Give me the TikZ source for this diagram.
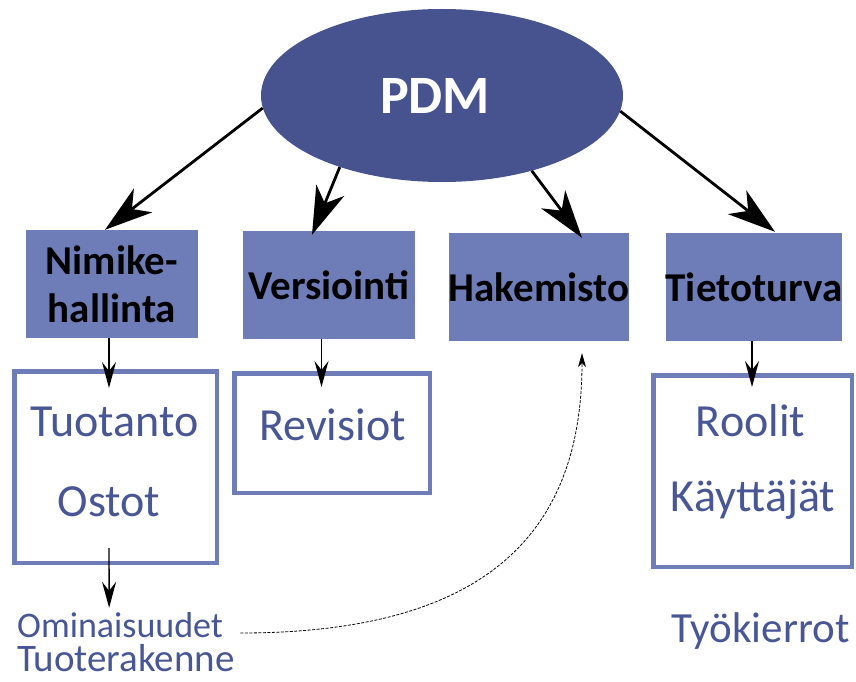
\documentclass[tikz,border=0pt]{standalone}
\usepackage{fontspec}
\setmainfont{Carlito}
\usepackage{xcolor}
\usetikzlibrary{arrows.meta,
positioning,
shapes.geometric,
calc}

\definecolor{pdmdark}{RGB}{70,83,142}
\definecolor{boxfill}{RGB}{110,124,183}
\definecolor{textblue}{RGB}{72,86,150}

\begin{document}
\begin{tikzpicture}[
				x=1pt, y=-1pt,
				hub/.style={
					ellipse,
					fill=pdmdark,
					inner sep=0pt,
					minimum width=362pt,
					minimum height=173pt,
					text=white,
					font=\fontsize{54}{60}\selectfont\bfseries
				},
				module/.style={
					fill=boxfill,
					inner sep=0pt,
					minimum width=172pt,
					minimum height=108pt,
					align=center,
					font=\fontsize{41}{48}\selectfont\bfseries
				},
				contentbox/.style={
					draw=boxfill,
					line width=4.5pt,
					inner sep=0pt
				},
				item/.style={
					anchor=base,
					inner sep=0pt,
					text=textblue,
					font=\fontsize{46}{50}\selectfont
				},
				bigarrow/.style={
					line width=2.8pt,
					-{Stealth[length=48pt,width=30pt,inset=14pt]}
				},
				smallarrow/.style={
					line width=1.4pt,
					-{Stealth[length=26pt,width=14pt,inset=9pt]}
				}
				]
				\useasboundingbox (0,0) rectangle (856,682);
				
				\node[hub] (pdm) at (442,95.5) {PDM\hspace*{14pt}};
				
				\node[module] (nimike) at (112,284) {Nimike-\\hallinta};
				\node[module] (versio) at (329,285) {Versiointi};
				\node[module] (hakemisto) at (539,287) {Hakemisto};
				\node[module] (tietoturva) at (754,287) {Tietoturva};
				
				\node[contentbox, minimum width=202.5pt, minimum height=191.5pt] (tuotanto) at (115.5,467) {};
				\node[contentbox, minimum width=195.5pt, minimum height=119.5pt] (revisiot) at (332,433) {};
				\node[contentbox, minimum width=198.5pt, minimum height=191.5pt] (roolit) at (752.5,471) {};
				
				\node[item] (tuo) at (114.5,436) {Tuotanto};
				\node[item] (ost) at (109,516) {Ostot};
				\node[item] (rev) at (332.5,440) {Revisiot};
				\node[item] (rool) at (750.5,436) {Roolit};
				\node[item] (kay) at (753,511) {Käyttäjät};
				\node[item, font=\fontsize{43}{48}\selectfont] (tyo) at (760.5,642) {Työkierrot};
				
				\node[item, anchor=base west, text depth=0pt, font=\fontsize{36}{40}\selectfont] (omin) at (17,637) {Ominaisuudet};
				\node[item, anchor=base west, text height=26pt, text depth=0pt, font=\fontsize{39}{44}\selectfont] (rakenne) at (17,671) {Tuoterakenne};
				
				% from PDM to the modules
				\draw[bigarrow] (pdm.184) -- ([xshift=-7pt]nimike.north);
				\draw[bigarrow] (pdm.215) -- ([xshift=-17pt,yshift=-4pt]versio.north);
				\draw[bigarrow] (pdm.320) -- ([xshift=43pt,yshift=-5pt]hakemisto.north);
				\draw[bigarrow] (pdm.355) -- ([xshift=21pt,yshift=1pt]tietoturva.north);
				
				% from the modules down
				\draw[smallarrow] ([xshift=-3pt]nimike.south) -- ([xshift=-6.5pt,yshift=-19pt]tuotanto.north);
				\draw[smallarrow] ([xshift=-7.5pt]versio.south) -- ([xshift=-10.5pt,yshift=-16pt]revisiot.north);
				\draw[smallarrow] ([xshift=-2pt]tietoturva.south) -- ([xshift=-0.5pt,yshift=-14pt]roolit.north);
				\draw[smallarrow] ([xshift=-6.5pt,yshift=17pt]tuotanto.south) -- ([xshift=-11pt,yshift=4pt]omin.north);
				
				\draw[dashed, dash pattern=on 3pt off 1.5pt, line width=0.8pt, -{Stealth[length=14pt,width=8pt,inset=4pt]}]
					([xshift=17pt,yshift=4pt]omin.base east) .. controls +(240,0) and +(0,185) .. ([xshift=43pt,yshift=-12pt]hakemisto.south);
			\end{tikzpicture}
\end{document}
